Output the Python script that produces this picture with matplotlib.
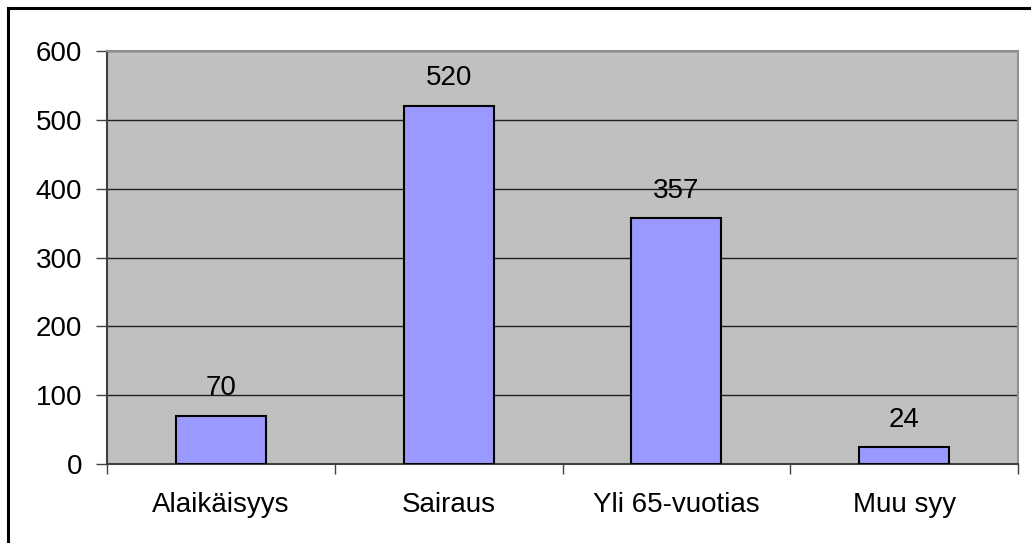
import matplotlib
matplotlib.use("Agg")
import matplotlib.pyplot as plt
from matplotlib.lines import Line2D
from matplotlib.ticker import FixedLocator

categories = ["Alaikäisyys", "Sairaus", "Yli 65-vuotias", "Muu syy"]
values = [70, 520, 357, 24]
yticks = [0, 100, 200, 300, 400, 500, 600]

W, H = 1031, 543
fig = plt.figure(figsize=(W / 100, H / 100), dpi=100)
plt.rcParams['font.family'] = ['Liberation Sans', 'DejaVu Sans']

L, R, T, B = 107, 1018, 51, 464
ax = fig.add_axes([L / W, 1 - B / H, (R - L) / W, (B - T) / H])
ax.set_facecolor("#C0C0C0")

FS = 20
x = list(range(len(categories)))
bars = ax.bar(x, values, width=0.395, color="#9999FF", edgecolor="black", linewidth=1.5, zorder=3)
for xi, v in zip(x, values):
    ax.annotate(str(v), (xi, v), xytext=(0, 10.5), textcoords="offset points",
                ha="center", va="bottom", fontsize=FS, zorder=4)

ax.set_xlim(-0.5, len(categories) - 0.5)
ax.set_ylim(0, 600)
ax.set_yticks(yticks)
ax.set_yticklabels([str(t) for t in yticks], fontsize=FS)
ax.yaxis.grid(True, color="#202020", linewidth=1, zorder=1)
ax.set_axisbelow(True)

ax.set_xticks(x)
ax.set_xticklabels(categories, fontsize=FS)
ax.xaxis.set_minor_locator(FixedLocator([i - 0.5 for i in range(len(categories) + 1)]))
ax.tick_params(axis="x", which="major", length=0, pad=20.5)
ax.tick_params(axis="x", which="minor", length=7, width=1, color="#404040")
ax.tick_params(axis="y", length=8, width=1, color="#404040", pad=10)

ax.spines["left"].set_color("#404040")
ax.spines["bottom"].set_color("#404040")
ax.spines["top"].set_color("#909090")
ax.spines["right"].set_color("#909090")
for s in ax.spines.values():
    s.set_linewidth(1.5)

fig.lines.append(Line2D([8 / W, 1], [1 - 8 / H, 1 - 8 / H], transform=fig.transFigure,
                        color="black", linewidth=2.2))
fig.lines.append(Line2D([8 / W, 8 / W], [0, 1 - 8 / H], transform=fig.transFigure,
                        color="black", linewidth=2.2))

fig.savefig("out.png", dpi=100)
